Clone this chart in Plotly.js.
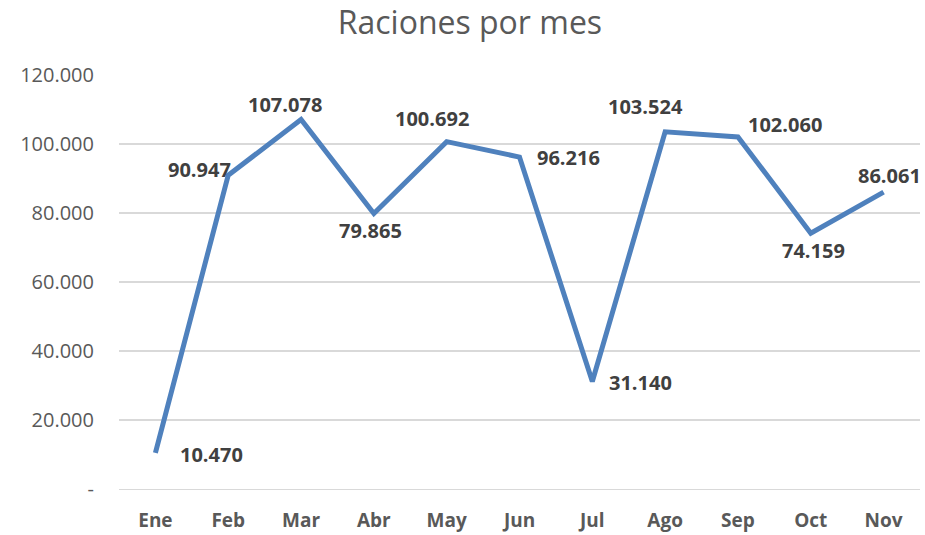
<!DOCTYPE html>
<html>
<head>
<meta charset="utf-8">
<script src="https://cdn.plot.ly/plotly-3.0.1.min.js"></script>
<style>html,body{margin:0;padding:0;background:#fff;}#chart{width:925px;height:535px;}</style>
</head>
<body>
<div id="chart"></div>
<script>
const months = ["Ene","Feb","Mar","Abr","May","Jun","Jul","Ago","Sep","Oct","Nov"];
const raciones = [10470, 90947, 107078, 79865, 100692, 96216, 31140, 103524, 102060, 74159, 86061];
const labels = ["10.470","90.947","107.078","79.865","100.692","96.216","31.140","103.524","102.060","74.159","86.061"];
const yTickVals = [0, 20000, 40000, 60000, 80000, 100000, 120000];
const yTickText = ["-", "20.000", "40.000", "60.000", "80.000", "100.000", "120.000"];

// label offsets in pixels (style)
const xShifts = [56, -29, -16, -3, -15, 49, 48, -20, 47, 3, 6];
const yShifts = [-2, 6, 15, -17, 23, 0, -1, 25, 12, -17, 17];

const FONT = "'Open Sans', 'Noto Sans', sans-serif";

const annotations = months.map((m, i) => ({
  x: m, y: raciones[i], xref: 'x', yref: 'y',
  text: labels[i], showarrow: false,
  xshift: xShifts[i], yshift: yShifts[i],
  font: {family: FONT, size: 20, color: '#404040', weight: 'bold'}
}));

const trace = {
  x: months, y: raciones, type: 'scatter', mode: 'lines',
  line: {color: '#4F81BD', width: 5, shape: 'linear'},
  hoverinfo: 'none'
};

const layout = {
  width: 925, height: 535,
  margin: {l: 119, r: 5, t: 75, b: 46},
  paper_bgcolor: '#ffffff', plot_bgcolor: '#ffffff',
  showlegend: false,
  separators: ',.',
  title: {text: 'Raciones por mes', x: 0.508, xanchor: 'center', y: 0.958, yanchor: 'middle',
          font: {family: FONT, size: 32, color: '#595959'}},
  xaxis: {
    type: 'category', range: [-0.5, 10.5],
    showgrid: false, zeroline: false,
    showline: true, linecolor: '#d9d9d9', linewidth: 1,
    ticks: '', ticklabelstandoff: 14,
    tickfont: {family: FONT, size: 19, color: '#595959', weight: 'bold'}
  },
  yaxis: {
    range: [0, 120000], tickvals: yTickVals, ticktext: yTickText,
    showgrid: true, gridcolor: '#d9d9d9', gridwidth: 1.3,
    zeroline: false, showline: false, ticks: '',
    ticklabelstandoff: 24,
    tickfont: {family: FONT, size: 20, color: '#595959'}
  },
  annotations: annotations
};

Plotly.newPlot('chart', [trace], layout, {displayModeBar: false, staticPlot: true});
</script>
</body>
</html>
